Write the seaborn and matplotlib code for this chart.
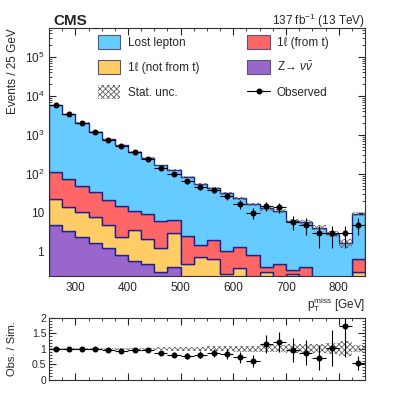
import numpy as np
import pandas as pd
import matplotlib
matplotlib.use('Agg')
import matplotlib.pyplot as plt
import matplotlib.ticker as mticker
from matplotlib.patches import Patch
from matplotlib.lines import Line2D
import seaborn as sns

# binning: 250-850 GeV, 25 GeV wide
edges = np.arange(250, 851, 25)
centers = edges[:-1] + 12.5

# simulated yields per bin
lost_lepton = [5785, 3387, 2031, 1176, 753, 535, 360, 248, 159, 117, 82.4, 54.5,
               42.0, 30.9, 22.1, 15.7, 12.6, 11.0, 5.95, 5.29, 4.2, 2.95, 1.72, 8.65]
one_lep_from_t = [92.6, 59, 38.2, 25.9, 16.7, 12.6, 7.8, 7.3, 5.0, 3.7, 2.1, 0.74,
                  1.35, 0.78, 0.99, 0.84, 0.11, 0.50, 0.07, 0.41, 0, 0, 0, 0.34]
one_lep_not_t = [17.5, 10.5, 8.4, 6.4, 3.6, 1.56, 3.1, 1.6, 1.0, 2.6, 0.48, 0.76,
                 0.65, 0.28, 0.38, 0, 0.31, 0, 0.28, 0, 0, 0, 0, 0.31]
znunu = [4.9, 3.5, 2.4, 1.7, 1.3, 0.84, 0.6, 0.5, 0.3, 0.4, 0, 0,
         0, 0, 0, 0, 0, 0, 0, 0, 0, 0, 0, 0]

# observed events
observed = [5900, 3460, 2040, 1190, 750, 505, 355, 245, 142, 100, 64, 45,
            38, 27, 17, 10, 15, 14, 6, 5, 3, 3, 3, 5]

# relative stat. uncertainty on the total simulation
stat_rel = [0.02, 0.02, 0.02, 0.025, 0.03, 0.03, 0.035, 0.04, 0.05, 0.06, 0.06, 0.07,
            0.08, 0.08, 0.09, 0.10, 0.12, 0.12, 0.14, 0.14, 0.15, 0.18, 0.25, 0.12]

labels = ['Lost lepton', '1\u2113 (from t)', '1\u2113 (not from t)', 'Z\u2192 $\\nu\\bar{\\nu}$']
colors = ['#66ccff', '#ff6666', '#ffcc66', '#9966cc']
edge_col = '#22228a'

rows = []
for lab, vals in zip(labels, [lost_lepton, one_lep_from_t, one_lep_not_t, znunu]):
    for c, v in zip(centers, vals):
        rows.append({'pt': c, 'events': v, 'proc': lab})
df = pd.DataFrame(rows)

total = np.array(lost_lepton) + np.array(one_lep_from_t) + np.array(one_lep_not_t) + np.array(znunu)
obs = np.array(observed, dtype=float)
stat = np.array(stat_rel)

sns.set_theme(style='ticks')
plt.rcParams['font.family'] = ['Liberation Sans', 'DejaVu Sans']
plt.rcParams['mathtext.fontset'] = 'custom'
plt.rcParams['mathtext.rm'] = 'Liberation Sans'
plt.rcParams['mathtext.it'] = 'Liberation Sans:italic'
plt.rcParams['hatch.linewidth'] = 0.6
for a in ['x', 'y']:
    plt.rcParams[f'{a}tick.direction'] = 'in'
    plt.rcParams[f'{a}tick.major.size'] = 5
    plt.rcParams[f'{a}tick.minor.size'] = 2.5
    plt.rcParams[f'{a}tick.major.width'] = 0.8
    plt.rcParams[f'{a}tick.minor.width'] = 0.6
    plt.rcParams[f'{a}tick.labelsize'] = 8.5
plt.rcParams['xtick.top'] = True
plt.rcParams['ytick.right'] = True

W, H = 407, 393
fig = plt.figure(figsize=(W / 100, H / 100), dpi=100)
ax = fig.add_axes([49 / W, 1 - 276 / H, 316 / W, 248 / H])
ax2 = fig.add_axes([49 / W, 1 - 379.5 / H, 316 / W, 61.5 / H])

# stacked simulation
sns.histplot(data=df, x='pt', weights='events', hue='proc', hue_order=labels,
             multiple='stack', binwidth=25, binrange=(250, 850), element='step',
             palette=colors, alpha=1, edgecolor=edge_col, linewidth=1.0,
             legend=False, ax=ax)

# stat. uncertainty band
lo = np.append(total * (1 - stat), total[-1] * (1 - stat[-1]))
hi = np.append(total * (1 + stat), total[-1] * (1 + stat[-1]))
ax.fill_between(edges, lo, hi, step='post', facecolor='none', edgecolor='#666666',
                hatch='xxxxxx', linewidth=0)

# observed data
ax.errorbar(centers, obs, xerr=12.5, yerr=np.sqrt(obs), fmt='o', color='black',
            ms=3.3, lw=0.8, capsize=0)

ax.set_yscale('log')
ax.set_xlim(250, 850)
ax.set_ylim(0.242, 5.5e5)
ax.yaxis.set_major_locator(mticker.LogLocator(base=10, numticks=10))
ax.yaxis.set_minor_locator(mticker.LogLocator(base=10, subs=np.arange(2, 10), numticks=20))
ax.yaxis.set_minor_formatter(mticker.NullFormatter())
ax.yaxis.set_major_formatter(mticker.FuncFormatter(
    lambda v, p: '1' if np.isclose(v, 1) else ('10' if np.isclose(v, 10) else f'$10^{{{int(round(np.log10(v)))}}}$')))
ax.xaxis.set_major_locator(mticker.MultipleLocator(100))
ax.xaxis.set_minor_locator(mticker.MultipleLocator(25))
ax.set_xlabel('$\\mathrm{p}_{\\mathrm{T}}^{\\mathrm{miss}}$ [GeV]', loc='right', fontsize=8.5, labelpad=1)
ax.set_ylabel('Events / 25 GeV', loc='top', fontsize=8.5)
ax.yaxis.set_label_coords(-0.095, 1.0)
ax.tick_params(axis='x', pad=4)

fig.text(53 / W, 1 - 25 / H, 'CMS', ha='left', va='baseline', fontsize=11, fontweight='bold')
fig.text(365 / W, 1 - 25 / H, '137 fb$^{-1}$ (13 TeV)', ha='right', va='baseline', fontsize=8.5)

# legend
handles = [
    Patch(facecolor=colors[0], edgecolor='#555577', lw=0.8, label=labels[0]),
    Patch(facecolor=colors[2], edgecolor='#555577', lw=0.8, label=labels[2]),
    Patch(facecolor='white', edgecolor='#666666', hatch='xxxxxx', lw=0, label='Stat. unc.'),
    Patch(facecolor=colors[1], edgecolor='#555577', lw=0.8, label=labels[1]),
    Patch(facecolor=colors[3], edgecolor='#555577', lw=0.8, label=labels[3]),
    Line2D([], [], color='black', marker='o', ms=3.3, lw=0.8, label='Observed'),
]
ax.legend(handles=handles, ncol=2, frameon=False, fontsize=8.5,
          loc='upper left', bbox_to_anchor=(98 / W, 1 - 35 / H), bbox_transform=fig.transFigure,
          borderpad=0, borderaxespad=0, handlelength=1.9, handleheight=1.45,
          handletextpad=0.6, labelspacing=0.95, columnspacing=4.1)

# ratio panel
r = obs / total
rerr = np.sqrt(obs) / total
blo = np.append(1 - stat, 1 - stat[-1])
bhi = np.append(1 + stat, 1 + stat[-1])
ax2.fill_between(edges, blo, bhi, step='post', facecolor='none', edgecolor='#666666',
                 hatch='xxxxxx', linewidth=0)
ax2.errorbar(centers, r, xerr=12.5, yerr=rerr, fmt='o', color='black', ms=3.3, lw=0.8, capsize=0)
ax2.set_xlim(250, 850)
ax2.set_ylim(0, 2)
ax2.xaxis.set_major_locator(mticker.MultipleLocator(100))
ax2.xaxis.set_minor_locator(mticker.MultipleLocator(25))
ax2.xaxis.set_major_formatter(mticker.NullFormatter())
ax2.yaxis.set_major_locator(mticker.FixedLocator([0, 0.5, 1, 1.5, 2]))
ax2.yaxis.set_major_formatter(mticker.FixedFormatter(['0', '0.5', '1', '1.5', '2']))
ax2.yaxis.set_minor_locator(mticker.MultipleLocator(0.1))
ax2.tick_params(axis='y', labelsize=7.5, pad=2)
ax2.set_ylabel('Obs. / Sim.', fontsize=8)
ax2.yaxis.set_label_coords(-0.1, 0.5)

for a in (ax, ax2):
    for s in a.spines.values():
        s.set_linewidth(0.8)
        s.set_color('#333333')

fig.savefig('out.png', dpi=100)
